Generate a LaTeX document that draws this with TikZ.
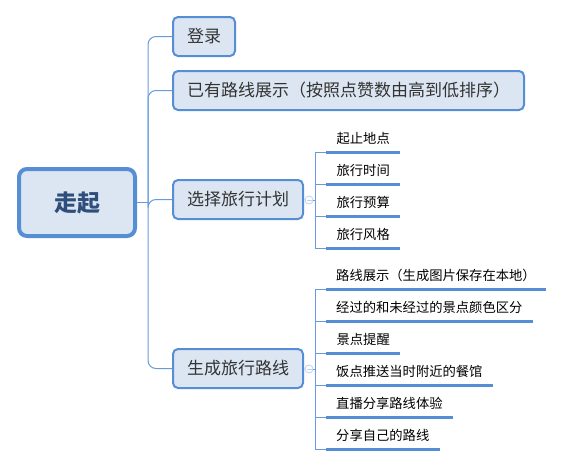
\documentclass[tikz,border=0pt]{standalone}
\usepackage{fontspec}
\newfontfamily\cjk{Noto Sans CJK SC}
\usetikzlibrary{positioning}

\definecolor{mmline}{RGB}{85,142,213}
\definecolor{mmfill}{RGB}{220,230,242}
\definecolor{mmroot}{RGB}{46,78,124}
\definecolor{mmlink}{RGB}{105,155,220}
\definecolor{mmdot}{RGB}{190,210,240}

\begin{document}
\begin{tikzpicture}[x=1pt, y=-1pt,
  rootbox/.style={draw=mmline, fill=mmfill, line width=4pt, rounded corners=8pt,
    minimum width=116pt, minimum height=67pt, text=mmroot,
    font=\cjk\bfseries\fontsize{23}{26}\selectfont},
  topic/.style={draw=mmline, fill=mmfill, line width=2pt, rounded corners=5pt,
    anchor=west, inner xsep=14pt, minimum height=39pt, text=black!80,
    font=\cjk\fontsize{17}{20}\selectfont},
  leaf/.style={anchor=south west, inner xsep=10pt, inner ysep=0pt,
    minimum width=74pt, minimum height=26pt, text=black,
    font=\cjk\fontsize{13.3}{16}\selectfont},
  bar/.style={mmline, line width=3pt},
  link/.style={mmlink, line width=1pt, rounded corners=8pt},
  fold/.style={circle, draw=mmdot, fill=white, line width=0.8pt,
    minimum size=8pt, inner sep=0pt,
    path picture={\draw[mmdot, line width=0.8pt]
      ([xshift=-2.5pt]path picture bounding box.center) -- ++(5,0);}},
]
\useasboundingbox (0,0) rectangle (561,466);

% ============================================================
% ROOT AND MAIN TOPICS
% ============================================================
\node[rootbox] (root) at (77,202.5) {走起};

\node[topic] (login) at (172,36.5) {登录};
\node[topic] (routes) at (172,90.5) {已有路线展示（按照点赞数由高到低排序）};
\node[topic] (plan) at (172,199.5) {选择旅行计划};
\node[topic] (gen) at (172,368.5) {生成旅行路线};

\coordinate (hub) at ([xshift=11pt]root.east);
\draw[link] (root.east) -- (hub);
\foreach \t in {login,routes,plan,gen}
  \draw[link] (hub) |- (\t.west);

% ============================================================
% SUBTOPICS OF PLAN
% ============================================================
\node[fold] (plandot) at (309,200) {};
\draw[mmdot, line width=0.8pt] (plan.east) -- (plandot.west);

\node[leaf] (p1) at (326,152) {起止地点};
\node[leaf] (p2) at (326,184) {旅行时间};
\node[leaf] (p3) at (326,216) {旅行预算};
\node[leaf] (p4) at (326,248) {旅行风格};

\foreach \s in {p1,p2,p3,p4} {
  \draw[link, rounded corners=0pt] (plandot.east) -- ++(2,0) |- (\s.south west);
  \draw[bar] (\s.south west) -- (\s.south east);
}

% ============================================================
% SUBTOPICS OF GEN
% ============================================================
\node[fold] (gendot) at (309,369) {};
\draw[mmdot, line width=0.8pt] (gen.east) -- (gendot.west);

\node[leaf] (g1) at (326,289) {路线展示（生成图片保存在本地）};
\node[leaf] (g2) at (326,321) {经过的和未经过的景点颜色区分};
\node[leaf] (g3) at (326,353) {景点提醒};
\node[leaf] (g4) at (326,385) {饭点推送当时附近的餐馆};
\node[leaf] (g5) at (326,417) {直播分享路线体验};
\node[leaf] (g6) at (326,449) {分享自己的路线};

\foreach \s in {g1,g2,g3,g4,g5,g6} {
  \draw[link, rounded corners=0pt] (gendot.east) -- ++(2,0) |- (\s.south west);
  \draw[bar] (\s.south west) -- (\s.south east);
}

\end{tikzpicture}
\end{document}
